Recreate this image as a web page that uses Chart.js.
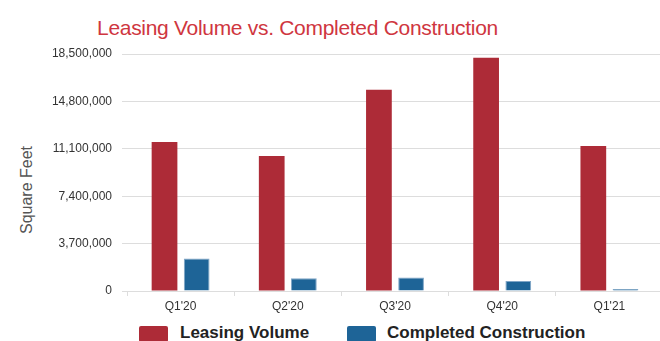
<!DOCTYPE html>
<html>
<head>
<meta charset="utf-8">
<script src="https://cdn.jsdelivr.net/npm/chart.js@4"></script>
<style>
  html, body { margin: 0; padding: 0; background: #fff; overflow: hidden; width: 660px; height: 341px; }
  body { position: relative; font-family: "Liberation Sans", Arial, sans-serif; }
  #title { position: absolute; left: 97px; top: 17px; font-size: 21px; line-height: 21px; letter-spacing: -0.3px; color: #cf3640; white-space: nowrap; }
  #ytitle { position: absolute; left: 27px; top: 190px; font-size: 16px; color: #555; white-space: nowrap; transform: translate(-50%, -50%) rotate(-90deg); }
  .lg { position: absolute; top: 323px; font-size: 17px; font-weight: bold; color: #222; white-space: nowrap; }
  .box { position: absolute; top: 326px; width: 29px; height: 16px; border-radius: 2px; }
  canvas { position: absolute; left: 0; top: 0; }
</style>
</head>
<body>
<div id="title">Leasing Volume vs. Completed Construction</div>
<div id="ytitle">Square Feet</div>
<canvas id="chart" width="663" height="323"></canvas>
<div class="box" style="left:139px;background:#ad2b37"></div>
<div class="lg" style="left:180px">Leasing Volume</div>
<div class="box" style="left:347px;background:#1e6497"></div>
<div class="lg" style="left:387px">Completed Construction</div>
<script>
const categories = ["Q1'20", "Q2'20", "Q3'20", "Q4'20", "Q1'21"]
const leasingVolume = [11640000, 10540000, 15700000, 18200000, 11320000]
const completedConstruction = [2540000, 990000, 1050000, 780000, 150000]

const ctx = document.getElementById('chart').getContext('2d')
new Chart(ctx, {
  type: 'bar',
  data: {
    labels: categories,
    datasets: [
      {
        label: 'Leasing Volume',
        data: leasingVolume,
        backgroundColor: '#ad2b37',
        categoryPercentage: 0.6,
        barPercentage: 0.8
      },
      {
        label: 'Completed Construction',
        data: completedConstruction,
        backgroundColor: '#1e6497',
        borderColor: '#7fa5c6',
        borderWidth: 1,
        categoryPercentage: 0.6,
        barPercentage: 0.8
      }
    ]
  },
  options: {
    responsive: false,
    animation: false,
    devicePixelRatio: 1,
    layout: { padding: { top: 54, bottom: 6.6, left: 0, right: 0 } },
    plugins: {
      legend: { display: false },
      title: { display: false },
      tooltip: { enabled: false }
    },
    scales: {
      x: {
        grid: { display: true, drawOnChartArea: false, drawTicks: true, tickLength: 5, color: '#dddddd' },
        border: { color: '#dddddd' },
        ticks: { color: '#333', font: { family: 'Liberation Sans', size: 12 }, padding: 3 }
      },
      y: {
        min: 0,
        max: 18500000,
        afterFit: function(scale) { scale.width = 127 },
        grid: { color: '#dddddd', tickLength: 5 },
        border: { display: false },
        ticks: {
          stepSize: 3700000,
          color: '#333',
          padding: 10,
          font: { family: 'Liberation Sans', size: 12 },
          callback: function(v) { return v.toLocaleString('en-US') }
        }
      }
    }
  }
})
</script>
</body>
</html>
